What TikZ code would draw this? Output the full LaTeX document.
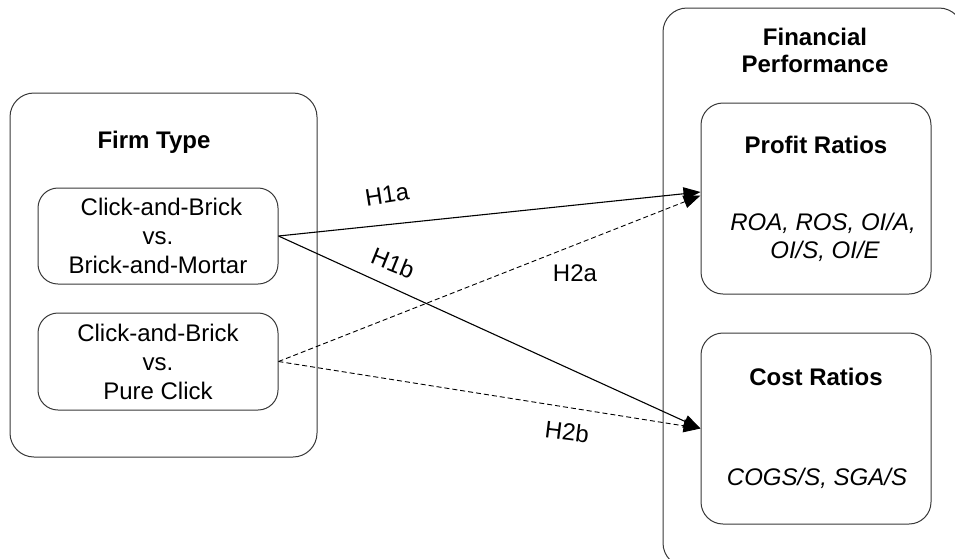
\documentclass[tikz,border=0pt]{standalone}
\usepackage{fontspec}
\setmainfont{Liberation Sans}
\usetikzlibrary{arrows.meta}

\begin{document}
\begin{tikzpicture}[x=1pt, y=-1pt,
  txt/.style={font=\fontsize{24}{29}\selectfont, inner sep=0pt},
  titletxt/.style={font=\fontsize{24}{27}\selectfont\bfseries, inner sep=0pt, align=center},
  ratiotxt/.style={font=\fontsize{24}{29}\selectfont\itshape, inner sep=0pt, anchor=base},
  group/.style={draw=black!78, line width=1pt, rounded corners=24pt, inner sep=0pt},
  inbox/.style={draw=black!78, line width=1pt, rounded corners=20pt, inner sep=0pt,
    align=center, font=\fontsize{24}{29}\selectfont},
  ratiobox/.style={draw=black!78, line width=1pt, rounded corners=22pt, inner sep=0pt,
    minimum width=230pt, minimum height=191pt},
  link/.style={line width=1.1pt, -{Triangle[length=17pt, width=13pt]}},
  dlink/.style={link, line width=0.9pt, dash pattern=on 5pt off 3pt}
]
\useasboundingbox (0,0) rectangle (955,558);
\clip (0,0) rectangle (955,558);

% left group: firm type
\node[group, minimum width=307pt, minimum height=364pt] (firm) at (163.5,275) {};
\node[titletxt] (firmT) at (154,142) {Firm Type};
\node[inbox, minimum width=240pt, minimum height=96pt] (cbm) at (158,236)
  {\hspace*{0.28em}Click-and-Brick\\vs.\\Brick-and-Mortar};
\node[inbox, minimum width=240pt, minimum height=97pt] (cpc) at (158,361.5)
  {Click-and-Brick\\vs.\\Pure Click};

% right group: financial performance (runs past the page edge)
\draw[group] (663,8) rectangle (963,567);
\node[titletxt] (finT) at (815,50) {Financial\\Performance};
\node[ratiobox] (profit) at (816,198.5) {};
\node[titletxt, anchor=base] (profitT) at (816,153) {Profit Ratios};
\node[ratiotxt] (profitA) at (823,230) {ROA, ROS, OI/A,};
\node[ratiotxt] (profitB) at (825,258) {OI/S, OI/E};
\node[ratiobox] (cost) at (816,428.5) {};
\node[titletxt, anchor=base] (costT) at (816,385) {Cost Ratios};
\node[ratiotxt] (costA) at (817,485) {COGS/S, SGA/S};

% arrow targets on the ratio boxes
\coordinate (pTip) at ([yshift=6.5pt]profit.west);
\coordinate (pTipD) at ([yshift=3pt]profit.west);
\coordinate (cTip) at (cost.west);

% hypotheses
\draw[link] (cbm.east) -- (pTip);
\draw[link] (cbm.east) -- (cTip);
\draw[dlink] (cpc.east) -- (pTipD);
\draw[dlink] (cpc.east) -- (cTip);

\node[txt, rotate=9] (h1a) at (387,195) {H1a};
\node[txt, rotate=-22] (h1b) at (393,263) {H1b};
\node[txt] (h2a) at (575,273) {H2a};
\node[txt, rotate=-7] (h2b) at (567,432) {H2b};
\end{tikzpicture}
\end{document}
